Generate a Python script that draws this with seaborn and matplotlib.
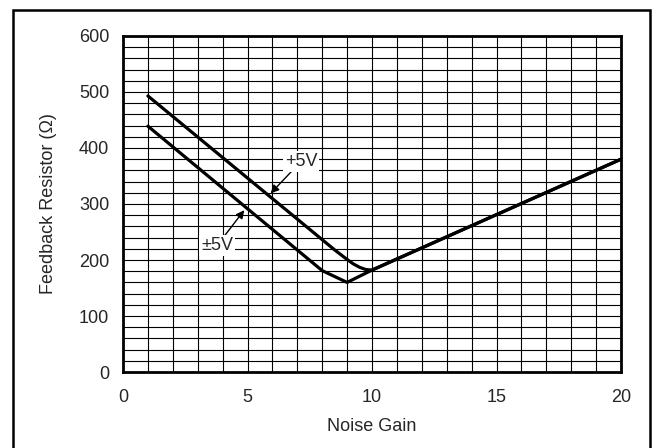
import numpy as np
import pandas as pd
import matplotlib
matplotlib.use('Agg')
import matplotlib.pyplot as plt
from matplotlib.patches import Rectangle
from matplotlib.ticker import MultipleLocator
import seaborn as sns

# values
gain_5v = [1, 8.5, 9, 9.25, 9.5, 9.75, 10, 20]
res_5v = [493, 218, 201, 193, 187, 183, 182, 380]
gain_pm5v = [1, 8, 9, 10, 20]
res_pm5v = [439, 181, 160, 182, 380]

df = pd.concat([
	pd.DataFrame({'gain': gain_5v, 'res': res_5v, 'supply': '+5V'}),
	pd.DataFrame({'gain': gain_pm5v, 'res': res_pm5v, 'supply': '\u00b15V'}),
])

sns.set_style('white')
plt.rcParams['font.family'] = ['Liberation Sans', 'DejaVu Sans']
plt.rcParams['font.size'] = 13

FS = 13

fig = plt.figure(figsize=(6.58, 4.48), dpi=100)
ax = fig.add_axes([123/658, 1 - 372/448, (621-123)/658, (372-36)/448])

sns.lineplot(data=df, x='gain', y='res', hue='supply', units='supply',
	estimator=None, sort=False, palette=['black', 'black'], lw=2.3,
	legend=False, ax=ax, zorder=3)

ax.set_xlim(0, 20)
ax.set_ylim(0, 600)
ax.xaxis.set_major_locator(MultipleLocator(5))
ax.xaxis.set_minor_locator(MultipleLocator(1))
ax.yaxis.set_major_locator(MultipleLocator(100))
ax.yaxis.set_minor_locator(MultipleLocator(20))
ax.grid(which='both', color='black', lw=0.8)
ax.tick_params(which='both', length=0, labelsize=FS)
ax.tick_params(axis='x', pad=12)
ax.tick_params(axis='y', pad=10)
for s in ax.spines.values():
	s.set_linewidth(2)
	s.set_color('black')

ax.set_xlabel('Noise Gain', fontsize=FS)
ax.set_ylabel('Feedback Resistor (\u03a9)', fontsize=FS)
ax.xaxis.set_label_coords(0.5, -0.137)
ax.yaxis.set_label_coords(-0.132, 0.5)

box = dict(boxstyle='square,pad=0.1', fc='white', ec='none')
arw = dict(arrowstyle='-|>', color='black', lw=1, mutation_scale=12, shrinkA=0, shrinkB=0)
ax.annotate('+5V', xy=(5.93, 319), xytext=(6.5, 361), ha='left', va='bottom',
	fontsize=FS, bbox=box, arrowprops=arw, zorder=5)
ax.annotate('\u00b15V', xy=(4.87, 289), xytext=(4.42, 241), ha='right', va='top',
	fontsize=FS, bbox=box, arrowprops=arw, zorder=5)

# outer frame
fig.patches.append(Rectangle((13/658, -0.02), (650-13)/658, 1.02 - 10/448,
	transform=fig.transFigure, fill=False, ec='black', lw=1.8))

plt.savefig('out.png', dpi=100)
